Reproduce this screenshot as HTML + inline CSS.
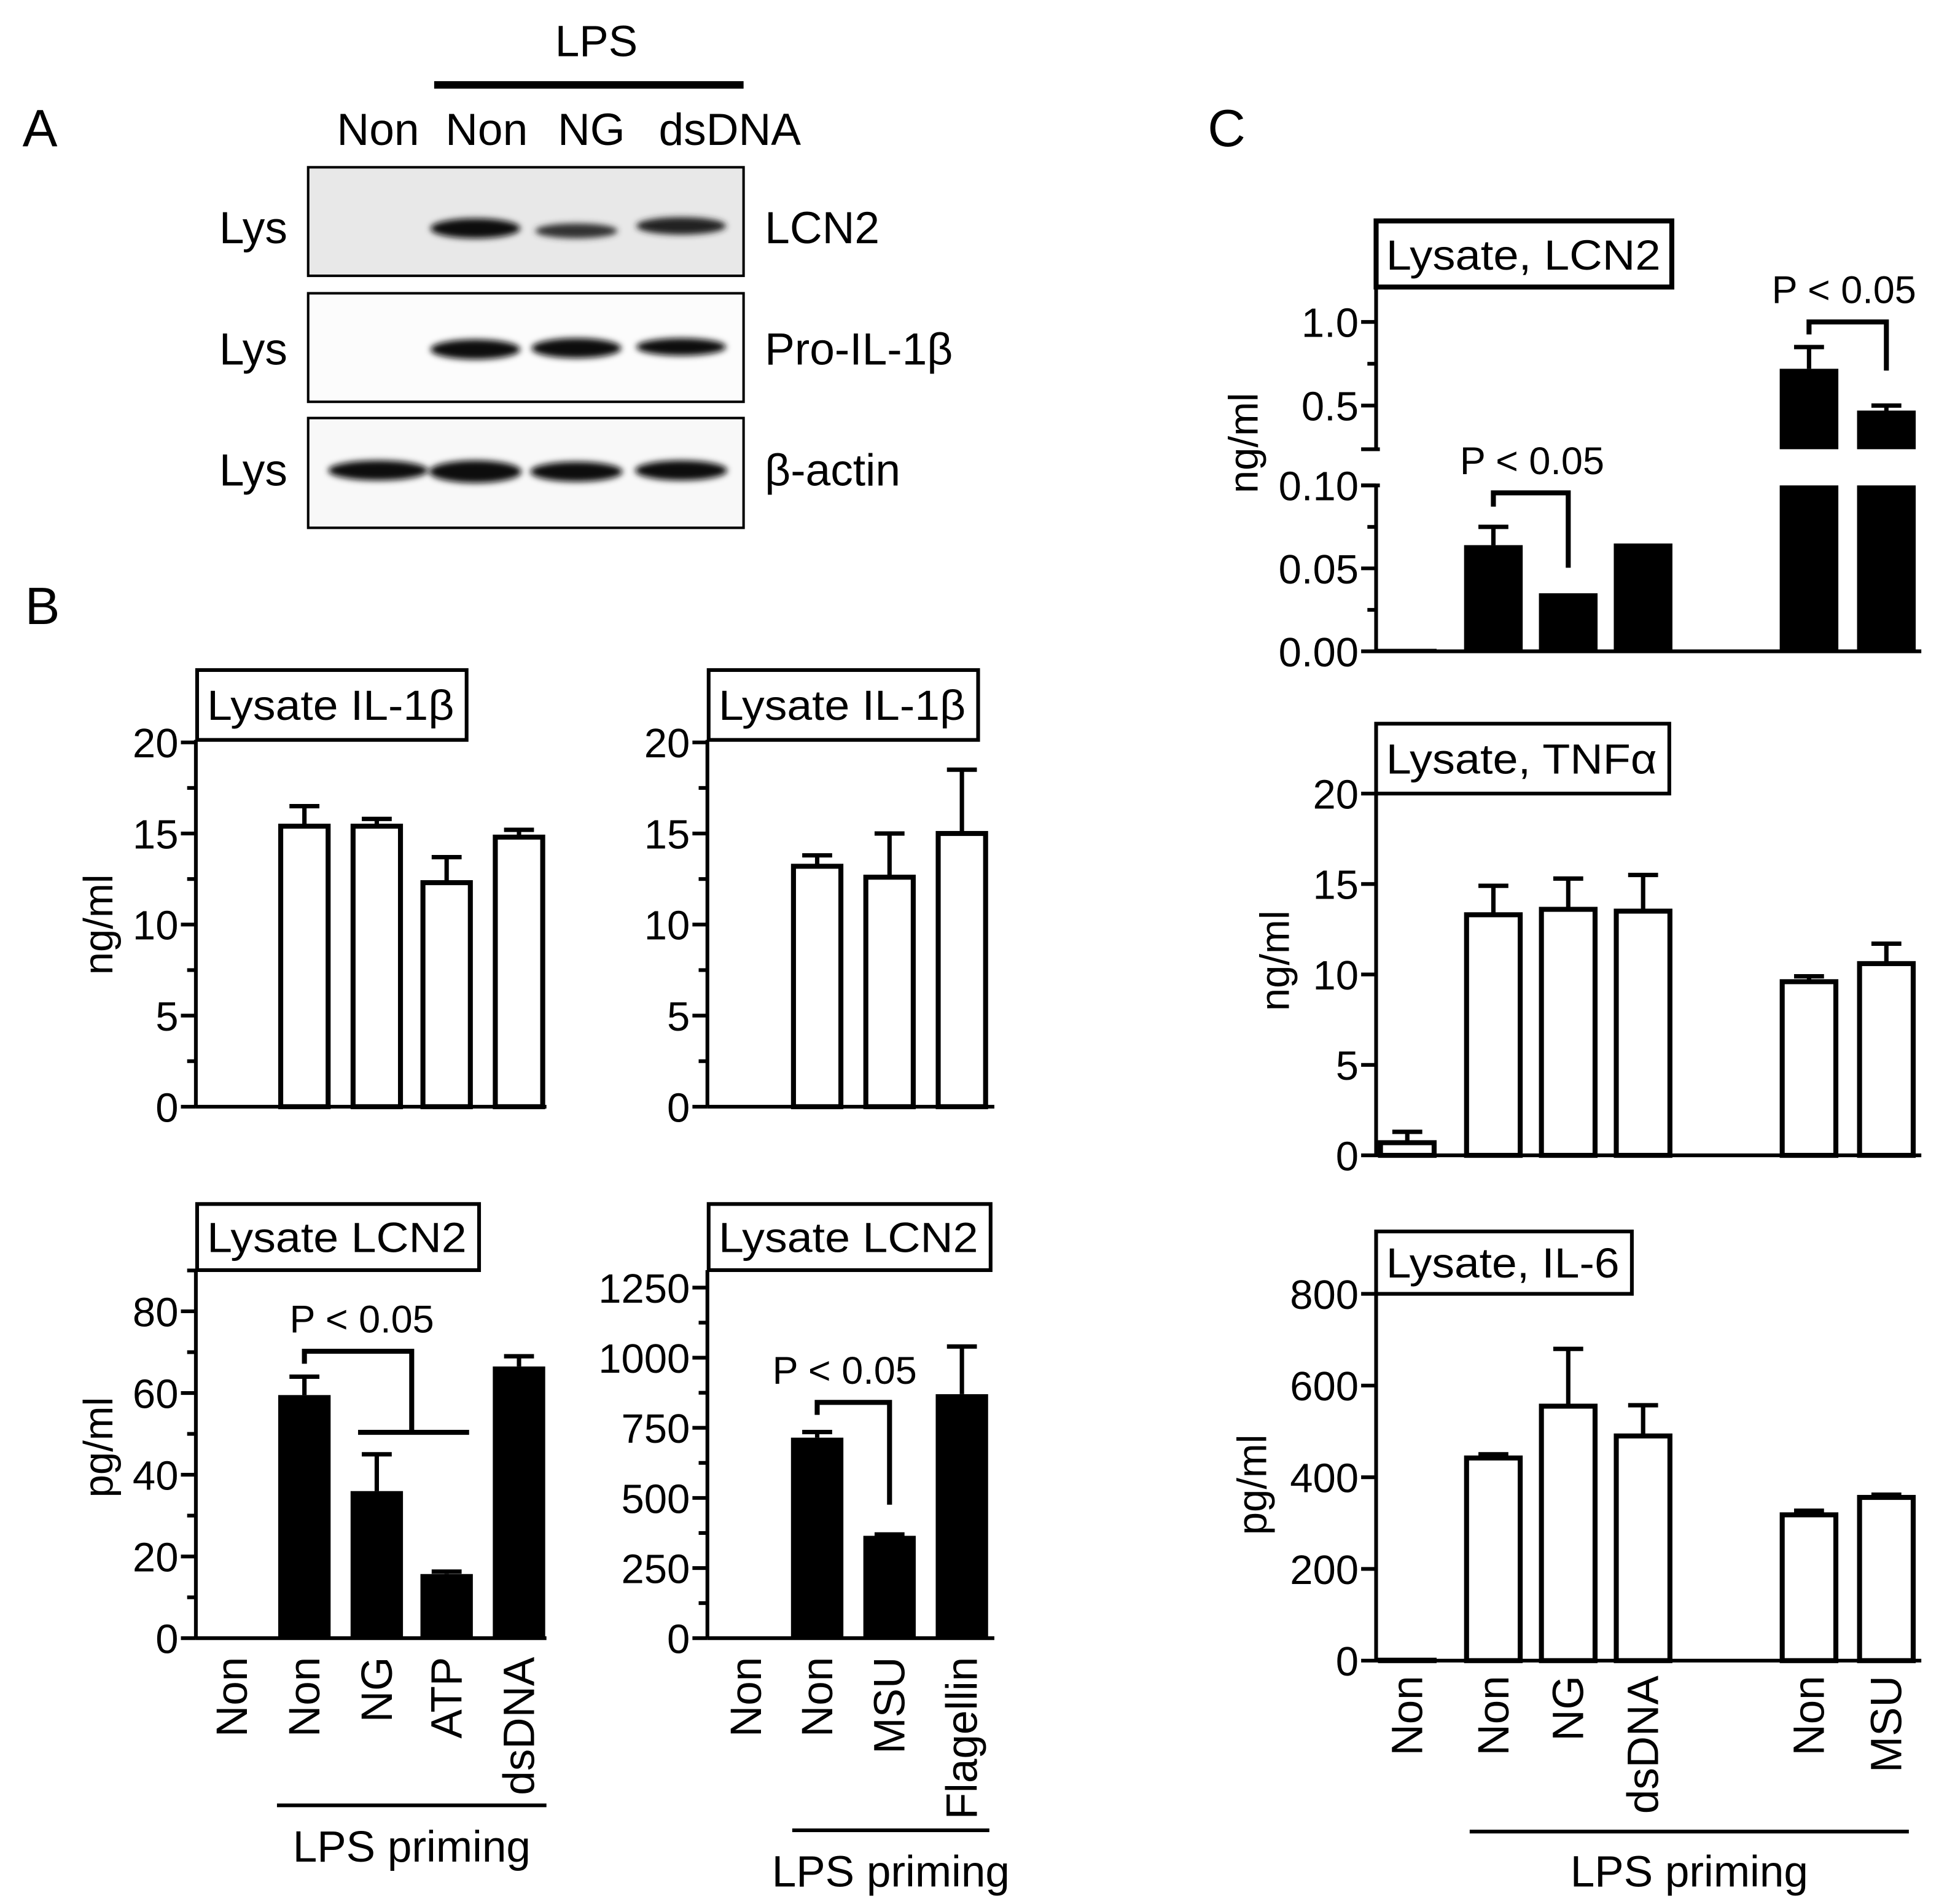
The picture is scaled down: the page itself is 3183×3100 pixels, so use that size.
<!DOCTYPE html>
<html><head><meta charset="utf-8"><style>
html,body{margin:0;padding:0;background:#fff}
svg{display:block}
text{font-family:"Liberation Sans",Arial,sans-serif;fill:#000}
</style></head><body>
<svg id="fig" width="3183" height="3100" viewBox="0 0 1567 1526" xmlns="http://www.w3.org/2000/svg">
<defs><filter id="blur" x="-20%" y="-50%" width="140%" height="200%"><feGaussianBlur stdDeviation="2.5"/></filter></defs>
<g id="panelA">
<text x="18" y="117" font-size="42">A</text>
<text x="478" y="45" font-size="35" text-anchor="middle">LPS</text>
<line x1="348" y1="68" x2="596" y2="68" stroke="#000" stroke-width="6"/>
<text x="303" y="116" font-size="36" text-anchor="middle">Non</text>
<text x="390" y="116" font-size="36" text-anchor="middle">Non</text>
<text x="474" y="116" font-size="36" text-anchor="middle">NG</text>
<text x="585" y="116" font-size="36" text-anchor="middle">dsDNA</text>
<rect x="247" y="134" width="349" height="87" fill="#e8e8e8" stroke="#000" stroke-width="2"/>
<rect x="247" y="235" width="349" height="87" fill="#fcfcfc" stroke="#000" stroke-width="2"/>
<rect x="247" y="335" width="349" height="88" fill="#f8f8f8" stroke="#000" stroke-width="2"/>
<g filter="url(#blur)">
<ellipse cx="381" cy="183" rx="36" ry="8" fill="#111"/>
<ellipse cx="462" cy="185" rx="33" ry="6" fill="#333"/>
<ellipse cx="546" cy="181" rx="36" ry="7" fill="#222"/>
<ellipse cx="381" cy="280" rx="36" ry="8" fill="#0a0a0a"/>
<ellipse cx="462" cy="279" rx="36" ry="8" fill="#0a0a0a"/>
<ellipse cx="546" cy="278" rx="36" ry="7" fill="#111"/>
<ellipse cx="303" cy="377" rx="40" ry="8" fill="#111"/>
<ellipse cx="381" cy="378" rx="37" ry="9" fill="#0a0a0a"/>
<ellipse cx="462" cy="378" rx="37" ry="8" fill="#0a0a0a"/>
<ellipse cx="546" cy="377" rx="37" ry="8" fill="#111"/>
</g>
<text x="203" y="195" font-size="36" text-anchor="middle">Lys</text>
<text x="203" y="292" font-size="36" text-anchor="middle">Lys</text>
<text x="203" y="389" font-size="36" text-anchor="middle">Lys</text>
<text x="613" y="195" font-size="36">LCN2</text>
<text x="613" y="292" font-size="36">Pro-IL-1β</text>
<text x="613" y="389" font-size="36">β-actin</text>
</g>
<text x="20" y="500" font-size="42">B</text>
<text x="968" y="117" font-size="42">C</text>
<g id="charts"></g>
</svg>
<script>
// ---- data ----
const b1Cats=["Non","Non","NG","ATP","dsDNA"];
const b1Vals=[0,15.4,15.4,12.3,14.8];
const b1Errs=[0,16.5,15.8,13.7,15.2];
const b1Ticks=[0,5,10,15,20];
const b2Cats=["Non","Non","MSU","Flagellin"];
const b2Vals=[0,13.2,12.6,15.0];
const b2Errs=[0,13.8,15.0,18.5];
const b2Ticks=[0,5,10,15,20];
const b3Cats=["Non","Non","NG","ATP","dsDNA"];
const b3Vals=[0,59.5,36,15.7,66.5];
const b3Errs=[0,64,45,16.3,69];
const b3Ticks=[0,20,40,60,80];
const b4Cats=["Non","Non","MSU","Flagellin"];
const b4Vals=[0,715,365,870];
const b4Errs=[0,735,370,1040];
const b4Ticks=[0,250,500,750,1000,1250];
const cCats=["Non","Non","NG","dsDNA","Non","MSU"];
const c1Vals=[0.001,0.064,0.035,0.065,0.72,0.47];
const c1Errs=[0,0.075,0.036,0.0655,0.85,0.50];
const c1LowTicks=[0,0.05,0.10];
const c1HighTicks=[0.5,1.0];
const c2Vals=[0.7,13.3,13.6,13.5,9.6,10.6];
const c2Errs=[1.3,14.9,15.3,15.5,9.9,11.7];
const c2Ticks=[0,5,10,15,20];
const c3Vals=[1,442,555,490,318,356];
const c3Errs=[0,450,680,557,327,362];
const c3Ticks=[0,200,400,600,800];

const NS="http://www.w3.org/2000/svg";
const root=document.getElementById('charts');
function mk(tag,attrs,parent,txt){const e=document.createElementNS(NS,tag);for(const k in attrs)e.setAttribute(k,attrs[k]);if(txt!==undefined)e.textContent=txt;(parent||root).appendChild(e);return e;}

function chart(o){
  const g=mk('g',{});
  
  
  const y=v=>o.y0-(v-o.vmin)*o.k;
  const tf=o.fmt||(v=>String(v));
  const ax=mk('line',{x1:o.ax,y1:o.y0,x2:o.ax,y2:o.top,stroke:'#000','stroke-width':3},g);
  
  
  const xa=mk('line',{x1:o.ax,y1:o.y0,x2:o.xend,y2:o.y0,stroke:'#000','stroke-width':3},g);
  
  
  o.ticks.forEach((t,i)=>{
    mk('line',{x1:o.ax-12,y1:y(t),x2:o.ax,y2:y(t),stroke:'#000','stroke-width':3},g);
    const tx=mk('text',{x:o.ax-14,y:y(t)+12,'font-size':o.fs||33,'text-anchor':'end'},g,tf(t));
    
    
    if(o.minor&&i<o.ticks.length-1){const m=(t+o.ticks[i+1])/2;mk('line',{x1:o.ax-7,y1:y(m),x2:o.ax,y2:y(m),stroke:'#000','stroke-width':3},g);}
  });
  if(o.minor){const last=o.ticks[o.ticks.length-1],step=o.ticks[1]-o.ticks[0];const m=last+step/2;if(y(m)>o.top)mk('line',{x1:o.ax-7,y1:y(m),x2:o.ax,y2:y(m),stroke:'#000','stroke-width':3},g);}
  const tb=mk('rect',{x:o.tb[0],y:o.tb[1],width:o.tb[2],height:o.tb[3],fill:'#fff',stroke:'#000','stroke-width':3},g);
  
  
  const tt=mk('text',{x:o.tb[0]+8,y:o.tb[1]+o.tb[3]/2+12,'font-size':34,textLength:o.tb[2]-18,lengthAdjust:'spacingAndGlyphs'},g,o.title);
  
  
  if(o.ylab){const yl=mk('text',{x:o.ylab[0],y:o.ylab[1],'font-size':33,'text-anchor':'middle',transform:`rotate(-90 ${o.ylab[0]} ${o.ylab[1]})`},g,o.ylabel);
    
    }
  o.vals.forEach((v,i)=>{
    const cx=o.ax+o.off[i],w=o.bw;
    if(v>0){
      const yt=y(v);
      const r=mk('rect',{x:cx-w/2+(o.fill?0:2),y:yt,width:w-(o.fill?0:4),height:o.y0-yt,fill:o.fill?'#000':'#fff',stroke:'#000','stroke-width':o.fill?0:4},g);
      
      
      if(o.errs[i]>v){const ye=y(o.errs[i]);
        const e=mk('path',{d:`M${cx} ${yt} V${ye} M${cx-12} ${ye} H${cx+12}`,stroke:'#000','stroke-width':3.5,fill:'none'},g);
        
        }
    } else if(o.zeroLine){
      mk('line',{x1:cx-w/2,y1:o.y0-1,x2:cx+w/2,y2:o.y0-1,stroke:'#000','stroke-width':2},g);
    }
  });
  if(o.cats){
    o.cats.forEach((c,i)=>{const cx=o.ax+o.off[i]+12,yy=o.labTop;
      const t=mk('text',{x:cx,y:yy,'font-size':35,'text-anchor':'end',transform:`rotate(-90 ${cx} ${yy})`},g,c);
      
      });
    const ln=mk('line',{x1:o.lps[0],y1:o.lps[2],x2:o.lps[1],y2:o.lps[2],stroke:'#000','stroke-width':3},g);
    
    
    const lt=mk('text',{x:(o.lps[0]+o.lps[1])/2+o.lps[4],y:o.lps[3],'font-size':35,'text-anchor':'middle'},g,'LPS priming');
    
    
  }
  return {g,y};
}
function sig(g,x1,x2,ytop,y1,y2,tx,ty){
  const p=mk('path',{d:`M${x1} ${y1} V${ytop} H${x2} V${y2}`,stroke:'#000','stroke-width':4,fill:'none'},g);
  
  
  const t=mk('text',{x:tx,y:ty,'font-size':31,'text-anchor':'middle'},g,'P < 0.05');
  
  
}
const offB1=[29,87,145,201,259], offB2=[31,88,146,204], offC=[25,94,154,214,347,409];

chart({name:'chart-b-il1b-left',ax:157,y0:887,top:593,vmin:0,k:14.6,xend:438,ticks:b1Ticks,minor:true,tb:[158,537,216,56],title:'Lysate IL-1β',ylab:[90,741],ylabel:'ng/ml',vals:b1Vals,errs:b1Errs,off:offB1,bw:42,fill:false});
chart({name:'chart-b-il1b-right',ax:567,y0:887,top:593,vmin:0,k:14.6,xend:797,ticks:b2Ticks,minor:true,tb:[568,537,216,56],title:'Lysate IL-1β',vals:b2Vals,errs:b2Errs,off:offB2,bw:42,fill:false});
const b3=chart({name:'chart-b-lcn2-left',ax:157,y0:1313,top:1018,vmin:0,k:3.275,xend:438,ticks:b3Ticks,minor:true,tb:[158,965,226,53],title:'Lysate LCN2',ylab:[90,1160],ylabel:'pg/ml',vals:b3Vals,errs:b3Errs,off:offB1,bw:42,fill:true,cats:b3Cats,labTop:1328,lps:[222,438,1447,1492,0]});
sig(b3.g,244,330,1083,1093,1148,290,1068);
mk('line',{x1:287,y1:1148,x2:376,y2:1148,stroke:'#000','stroke-width':4},b3.g);
const b4=chart({name:'chart-b-lcn2-right',ax:567,y0:1313,top:1018,vmin:0,k:0.2248,xend:797,ticks:b4Ticks,minor:true,tb:[568,965,226,53],title:'Lysate LCN2',vals:b4Vals,errs:b4Errs,off:offB2,bw:42,fill:true,cats:b4Cats,labTop:1328,lps:[635,793,1467,1512,0]});
sig(b4.g,655,713,1124,1134,1206,677,1109);

(function(){
  const g=mk('g',{});
  
  
  const ax=1103,y0=522,kL=1330,yH0=392,kH=134;
  const yl=v=>y0-v*kL, yh=v=>yH0-v*kH;
  mk('path',{d:`M${ax} ${y0} V389 M${ax} 360 V230`,stroke:'#000','stroke-width':3,fill:'none'},g);
  mk('path',{d:`M${ax-12} 389 H${ax+3} M${ax-12} 360 H${ax+3}`,stroke:'#000','stroke-width':3},g);
  const xa=mk('line',{x1:ax,y1:y0,x2:1540,y2:y0,stroke:'#000','stroke-width':3},g);
  
  
  c1LowTicks.forEach((t,i)=>{mk('line',{x1:ax-12,y1:yl(t),x2:ax,y2:yl(t),stroke:'#000','stroke-width':3},g);
    const tx=mk('text',{x:ax-14,y:yl(t)+12,'font-size':33,'text-anchor':'end'},g,t.toFixed(2));
    
    
    if(i<c1LowTicks.length-1){const m=(t+c1LowTicks[i+1])/2;mk('line',{x1:ax-7,y1:yl(m),x2:ax,y2:yl(m),stroke:'#000','stroke-width':3},g);}});
  c1HighTicks.forEach(t=>{mk('line',{x1:ax-12,y1:yh(t),x2:ax,y2:yh(t),stroke:'#000','stroke-width':3},g);
    const tx=mk('text',{x:ax-14,y:yh(t)+12,'font-size':33,'text-anchor':'end'},g,t.toFixed(1));
    
    });
  [0.25,0.75,1.25].forEach(m=>{if(yh(m)>230&&yh(m)<358)mk('line',{x1:ax-7,y1:yh(m),x2:ax,y2:yh(m),stroke:'#000','stroke-width':3},g);});
  const tb=mk('rect',{x:1103,y:177,width:237,height:53,fill:'#fff',stroke:'#000','stroke-width':4},g);
  
  
  const tt=mk('text',{x:1111,y:216,'font-size':34,textLength:220,lengthAdjust:'spacingAndGlyphs'},g,'Lysate, LCN2');
  
  
  const ylab=mk('text',{x:1008,y:355,'font-size':33,'text-anchor':'middle',transform:'rotate(-90 1008 355)'},g,'ng/ml');
  
  
  c1Vals.forEach((v,i)=>{const cx=ax+offC[i],w=47;
    if(v<0.005){mk('line',{x1:cx-w/2,y1:y0-1,x2:cx+w/2,y2:y0-1,stroke:'#000','stroke-width':2},g);return;}
    if(v<=0.1){const yt=yl(v);const r=mk('rect',{x:cx-w/2,y:yt,width:w,height:y0-yt,fill:'#000'},g);
      
      
      if(c1Errs[i]>v+0.002){const ye=yl(c1Errs[i]);mk('path',{d:`M${cx} ${yt} V${ye} M${cx-12} ${ye} H${cx+12}`,stroke:'#000','stroke-width':3.5,fill:'none'},g);}
    } else {
      const r1=mk('rect',{x:cx-w/2,y:389,width:w,height:y0-389,fill:'#000'},g);
      
      
      const yt=yh(v);const r2=mk('rect',{x:cx-w/2,y:yt,width:w,height:360-yt,fill:'#000'},g);
      
      
      const ye=yh(c1Errs[i]);mk('path',{d:`M${cx} ${yt} V${ye} M${cx-12} ${ye} H${cx+12}`,stroke:'#000','stroke-width':3.5,fill:'none'},g);
    }});
  sig(g,ax+offC[1],ax+offC[2],395,406,455,1228,380);
  sig(g,ax+offC[4],ax+offC[5],258,268,297,1478,243);
})();
chart({name:'chart-c-tnfa',ax:1103,y0:926,top:636,vmin:0,k:14.5,xend:1540,ticks:c2Ticks,tb:[1103,580,235,56],title:'Lysate, TNFα',ylab:[1033,770],ylabel:'ng/ml',vals:c2Vals,errs:c2Errs,off:offC,bw:47,fill:false,zeroLine:true});
chart({name:'chart-c-il6',ax:1103,y0:1331,top:1037,vmin:0,k:0.3675,xend:1540,ticks:c3Ticks,tb:[1103,987,205,50],title:'Lysate, IL-6',ylab:[1015,1190],ylabel:'pg/ml',vals:c3Vals,errs:c3Errs,off:offC,bw:47,fill:false,zeroLine:true,cats:cCats,labTop:1343,lps:[1178,1530,1468,1512,0]});
</script>
</body></html>
